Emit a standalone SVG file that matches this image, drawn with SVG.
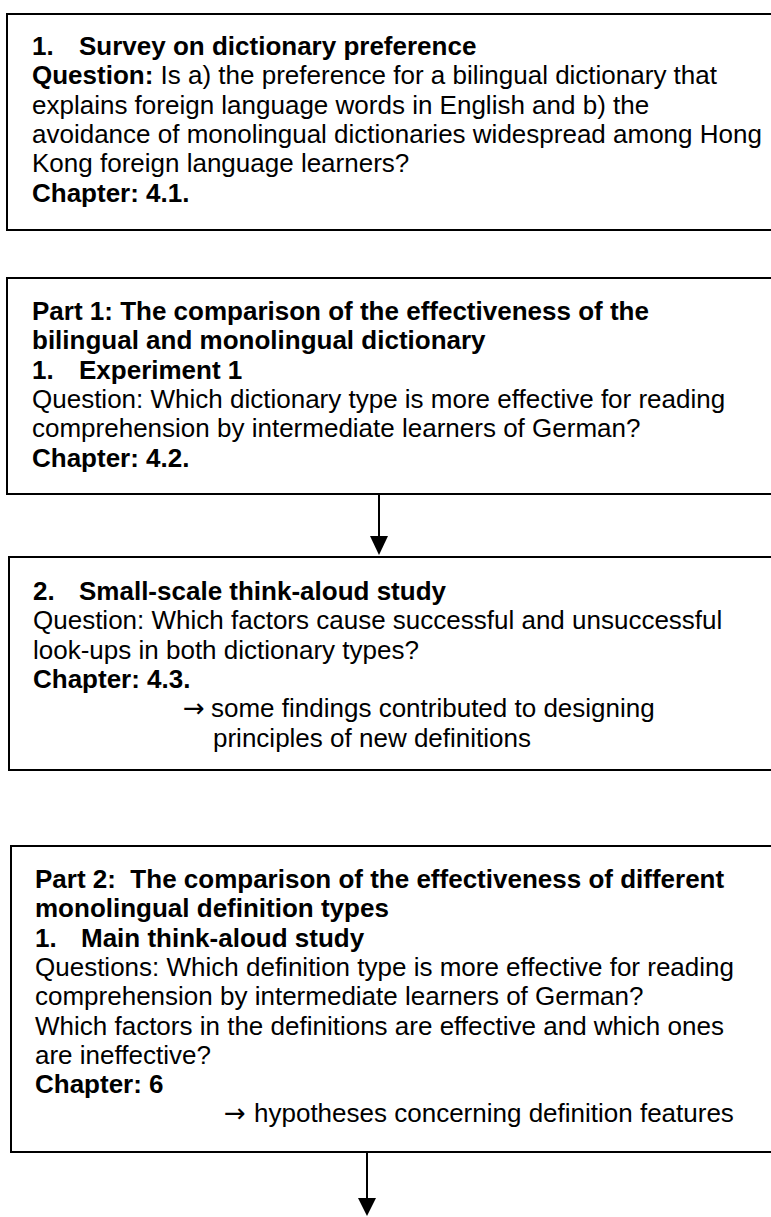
<svg xmlns="http://www.w3.org/2000/svg" width="771" height="1217" viewBox="0 0 771 1217">
<style>
.box{fill:#fff;stroke:#000;stroke-width:2}
.t{font-family:"Liberation Sans",Arial,Helvetica,sans-serif;font-size:26px;fill:#000}
.b{font-weight:bold}
.ar{font-family:"DejaVu Sans",sans-serif;font-size:26px;fill:#000}
.conn line{stroke:#000;stroke-width:2}
.conn polygon{fill:#000}
</style>
<rect width="771" height="1217" fill="#fff"/>
<g id="node-survey">
<rect class="box" x="7" y="14" width="780" height="216"/>
<text class="t b" x="32" y="55">1.</text>
<text class="t b" x="79" y="55">Survey on dictionary preference</text>
<text class="t" x="32" y="84.3"><tspan class="b">Question:</tspan> Is a) the preference for a bilingual dictionary that</text>
<text class="t" x="32" y="113.6">explains foreign language words in English and b) the</text>
<text class="t" x="32" y="142.9">avoidance of monolingual dictionaries widespread among Hong</text>
<text class="t" x="32" y="172.2">Kong foreign language learners?</text>
<text class="t b" x="32" y="201.5">Chapter: 4.1.</text>
</g>
<g id="node-part1">
<rect class="box" x="7" y="278" width="780" height="216"/>
<text class="t b" x="32" y="320">Part 1: The comparison of the effectiveness of the</text>
<text class="t b" x="32" y="349.3">bilingual and monolingual dictionary</text>
<text class="t b" x="32" y="378.6">1.</text>
<text class="t b" x="79" y="378.6">Experiment 1</text>
<text class="t" x="32" y="407.9">Question: Which dictionary type is more effective for reading</text>
<text class="t" x="32" y="437.2">comprehension by intermediate learners of German?</text>
<text class="t b" x="32" y="466.5">Chapter: 4.2.</text>
</g>
<g id="node-smallscale">
<rect class="box" x="9" y="557" width="780" height="213"/>
<text class="t b" x="33" y="600">2.</text>
<text class="t b" x="79" y="600">Small-scale think-aloud study</text>
<text class="t" x="33" y="629.3">Question: Which factors cause successful and unsuccessful</text>
<text class="t" x="33" y="658.6">look-ups in both dictionary types?</text>
<text class="t b" x="33" y="687.9">Chapter: 4.3.</text>
<text class="ar" x="183" y="717.2">→</text>
<text class="t" x="211" y="717.2">some findings contributed to designing</text>
<text class="t" x="213" y="746.5">principles of new definitions</text>
</g>
<g id="node-part2">
<rect class="box" x="11" y="846" width="780" height="306"/>
<text class="t b" x="35" y="888" xml:space="preserve">Part 2:  The comparison of the effectiveness of different</text>
<text class="t b" x="35" y="917.3">monolingual definition types</text>
<text class="t b" x="35" y="946.6">1.</text>
<text class="t b" x="81" y="946.6">Main think-aloud study</text>
<text class="t" x="35" y="975.9">Questions: Which definition type is more effective for reading</text>
<text class="t" x="35" y="1005.2">comprehension by intermediate learners of German?</text>
<text class="t" x="35" y="1034.5">Which factors in the definitions are effective and which ones</text>
<text class="t" x="35" y="1063.8">are ineffective?</text>
<text class="t b" x="35" y="1093.1">Chapter: 6</text>
<text class="ar" x="224" y="1122.4">→</text>
<text class="t" x="254" y="1122.4">hypotheses concerning definition features</text>
</g>
<g id="connectors" class="conn">
<line x1="379" y1="494" x2="379" y2="537"/>
<polygon points="370,536 388,536 379,555"/>
<line x1="367" y1="1152" x2="367" y2="1199"/>
<polygon points="358,1198 376,1198 367,1216"/>
</g>
</svg>
